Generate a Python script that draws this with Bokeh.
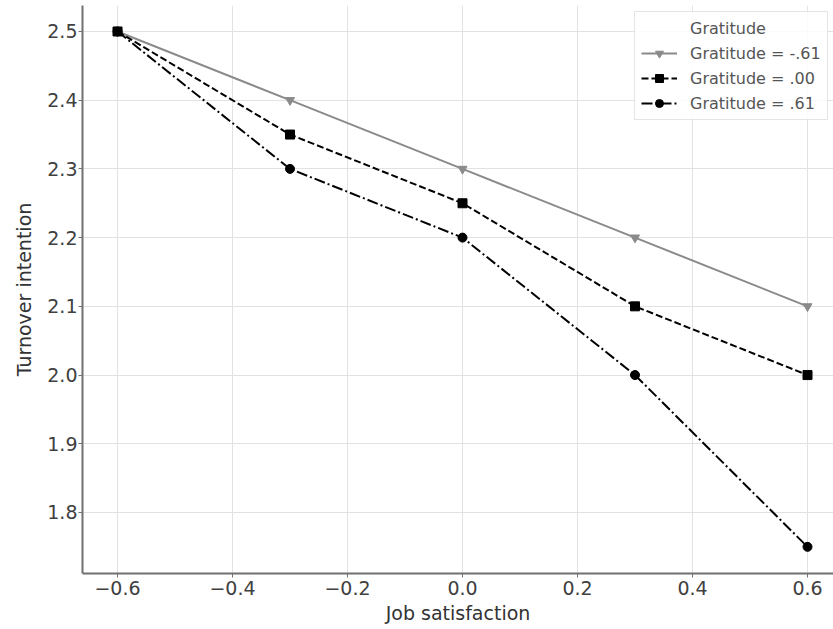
from bokeh.plotting import figure
from bokeh.models import Range1d, FixedTicker, Legend, LegendItem
from bokeh.embed import file_html
from bokeh.resources import INLINE

# ---- data ----
job_satisfaction = [-0.6, -0.3, 0.0, 0.3, 0.6]
grat_low = [2.5, 2.4, 2.3, 2.2, 2.1]        # Gratitude = -.61
grat_mid = [2.5, 2.35, 2.25, 2.1, 2.0]      # Gratitude = .00
grat_high = [2.5, 2.3, 2.2, 2.0, 1.75]      # Gratitude = .61
series_labels = ["Gratitude = -.61", "Gratitude = .00", "Gratitude = .61"]
legend_title = "Gratitude"
x_title = "Job satisfaction"
y_title = "Turnover intention"
x_ticks = [-0.6, -0.4, -0.2, 0.0, 0.2, 0.4, 0.6]
x_tick_labels = ["\u22120.6", "\u22120.4", "\u22120.2", "0.0", "0.2", "0.4", "0.6"]
y_ticks = [1.8, 1.9, 2.0, 2.1, 2.2, 2.3, 2.4, 2.5]
y_tick_labels = ["1.8", "1.9", "2.0", "2.1", "2.2", "2.3", "2.4", "2.5"]

FONT = "DejaVu Sans"

p = figure(width=833, height=629, output_backend="svg", toolbar_location=None,
           x_range=Range1d(-0.6609, 0.6452), y_range=Range1d(1.7112, 2.5378),
           min_border_left=82, min_border_right=0, min_border_top=5, min_border_bottom=56)
p.outline_line_color = None
p.background_fill_color = "white"
p.border_fill_color = "white"

# grid
p.xgrid.ticker = FixedTicker(ticks=x_ticks)
p.ygrid.ticker = FixedTicker(ticks=y_ticks)
for g in (p.xgrid, p.ygrid):
    g.grid_line_color = "#e2e2e2"
    g.grid_line_width = 1

# axes
p.xaxis.ticker = FixedTicker(ticks=x_ticks)
p.yaxis.ticker = FixedTicker(ticks=y_ticks)
p.xaxis.major_label_overrides = dict(zip(x_ticks, x_tick_labels))
p.yaxis.major_label_overrides = dict(zip(y_ticks, y_tick_labels))
p.xaxis.axis_label = x_title
p.yaxis.axis_label = y_title
for ax in (p.xaxis[0], p.yaxis[0]):
    ax.axis_line_color = "#707070"
    ax.axis_line_width = 2
    ax.major_tick_line_color = "#707070"
    ax.major_tick_line_width = 1
    ax.major_tick_out = 4
    ax.major_tick_in = 0
    ax.minor_tick_line_color = None
    ax.major_label_text_font = FONT
    ax.major_label_text_font_size = "19px"
    ax.major_label_text_color = "#404040"
    ax.axis_label_text_font = FONT
    ax.axis_label_text_font_size = "19px"
    ax.axis_label_text_font_style = "normal"
    ax.axis_label_text_color = "#333333"
p.xaxis.major_label_standoff = 3
p.xaxis.axis_label_standoff = 4
p.yaxis.major_label_standoff = 1
p.yaxis.axis_label_standoff = 9

# series
l1 = p.line(job_satisfaction, grat_low, line_color="#8a8a8a", line_width=2)
m1 = p.scatter(job_satisfaction, grat_low, marker="inverted_triangle", size=9,
               fill_color="#8a8a8a", line_color="#8a8a8a")
l2 = p.line(job_satisfaction, grat_mid, line_color="black", line_width=2, line_dash="7 3")
m2 = p.scatter(job_satisfaction, grat_mid, marker="square", size=9,
               fill_color="black", line_color="black")
l3 = p.line(job_satisfaction, grat_high, line_color="black", line_width=2, line_dash="11 3 2 3")
m3 = p.scatter(job_satisfaction, grat_high, marker="circle", size=9,
               fill_color="black", line_color="black")

# invisible renderer used for the legend heading row
dummy = p.line([], [], line_alpha=0)

legend = Legend(items=[
    LegendItem(label=legend_title, renderers=[dummy]),
    LegendItem(label=series_labels[0], renderers=[l1, m1]),
    LegendItem(label=series_labels[1], renderers=[l2, m2]),
    LegendItem(label=series_labels[2], renderers=[l3, m3]),
], location=(552, 453))
legend.label_text_font = FONT
legend.label_text_font_size = "16px"
legend.label_text_color = "#555555"
legend.glyph_width = 36
legend.glyph_height = 20
legend.label_height = 20
legend.label_standoff = 13
legend.spacing = 5
legend.padding = 6
legend.margin = 0
legend.border_line_color = "#cccccc"
legend.border_line_width = 1
legend.background_fill_color = "white"
legend.background_fill_alpha = 0.85
p.add_layout(legend, "center")

open("out.html", "w").write(file_html(p, INLINE))
